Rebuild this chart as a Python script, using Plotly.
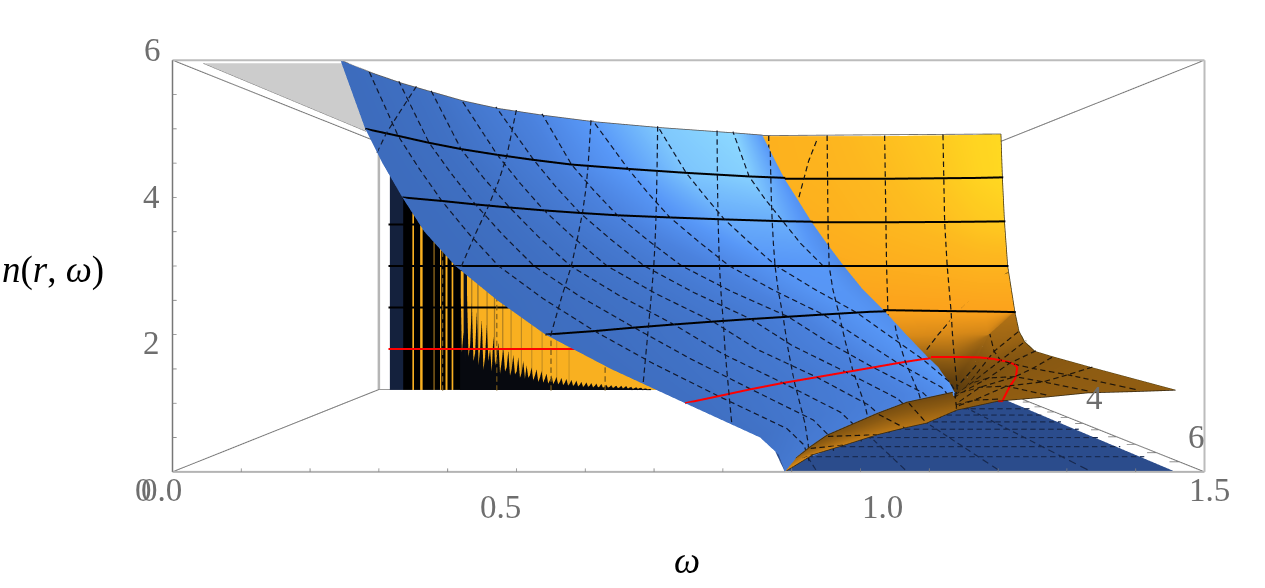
import math
import plotly.graph_objects as go

# Axis limits and tick positions
W_RANGE = [0.0, 1.5]
R_RANGE = [0.0, 6.5]
N_RANGE = [0.0, 6.0]
N_TICKS = [0.5, 1, 1.5, 2, 2.5, 3, 3.5, 4, 4.5, 5, 5.5]
W_TICKS = [0.1, 0.2, 0.3, 0.4, 0.5, 0.6, 0.7, 0.8, 0.9, 1.0, 1.1, 1.2, 1.3, 1.4]
R_TICKS = [0.5, 1, 1.5, 2, 2.5, 3, 3.5, 4, 4.5, 5, 5.5, 6]

# Lower branch of the sheet: omega tabulated on contours of n and stations of r
BLUE_N = [0, 0.25, 0.5, 1, 1.5, 2, 2.5, 3, 3.5, 4, 4.5, 5, 6]
BLUE_W = [
    [.890, .935, .985, 1.045, 1.110, 1.180, 1.245, 1.298, 1.330, 1.340, 1.350],
    [.881, .927, .977, 1.036, 1.100, 1.170, 1.237, 1.291, 1.325, 1.335, 1.345],
    [.854, .901, .952, 1.009, 1.073, 1.143, 1.211, 1.270, 1.310, 1.320, 1.330],
    [.745, .796, .851, .911, .980, 1.046, 1.113, 1.180, 1.251, 1.264, 1.273],
    [.637, .696, .752, .808, .873, .945, 1.024, 1.103, 1.180, 1.205, 1.228],
    [.542, .606, .662, .725, .794, .867, .946, 1.027, 1.110, 1.146, 1.185],
    [.472, .527, .575, .631, .692, .760, .834, .925, 1.020, 1.090, 1.140],
    [.411, .459, .500, .549, .604, .667, .737, .834, .938, 1.050, 1.102],
    [.366, .413, .450, .494, .545, .604, .671, .771, .881, 1.000, 1.065],
    [.334, .372, .405, .445, .491, .546, .610, .712, .827, .960, 1.030],
    [.305, .337, .366, .401, .447, .500, .563, .667, .785, .920, 1.000],
    [.280, .305, .330, .362, .407, .459, .520, .626, .745, .885, .969],
    [.244, .260, .281, .311, .342, .388, .462, .553, .684, .849, .919],
]
BLUE_R_COMMON = [6.5, 5.83, 5.25, 4.67, 4.08, 3.5, 2.92, 2.33, 1.75]
BLUE_R_FOLD = [
    [1.5, 1.3], [1.55, 1.4], [1.55, 1.4], [1.68, 1.6], [1.6, 1.48], [1.5, 1.35], [1.3, 1.15],
    [1.17, 1.05], [1.17, 1.02], [1.17, 1.0], [1.17, 0.96], [1.17, 0.93], [1.17, 0.90],
]
BLUE_TONE = [
    [.25, .30, .33, .38, .42, .45, .50, .55, .60, .60, .60],
    [.18, .24, .28, .33, .38, .42, .48, .54, .60, .60, .58],
    [.10, .17, .22, .27, .32, .38, .45, .52, .60, .58, .55],
    [.05, .10, .15, .20, .25, .33, .42, .50, .60, .55, .50],
    [.03, .07, .11, .16, .21, .29, .38, .50, .58, .55, .52],
    [.02, .05, .08, .12, .18, .25, .35, .48, .58, .56, .52],
    [.00, .03, .06, .11, .16, .23, .33, .46, .58, .58, .50],
    [.00, .02, .05, .10, .15, .22, .32, .45, .58, .60, .48],
    [.00, .02, .05, .10, .16, .25, .36, .50, .65, .66, .50],
    [.00, .02, .05, .10, .18, .28, .40, .55, .72, .74, .52],
    [.00, .02, .05, .10, .19, .29, .42, .58, .80, .84, .55],
    [.00, .02, .05, .10, .20, .30, .45, .62, .88, .95, .58],
    [.00, .02, .05, .10, .20, .30, .45, .62, .90, 1.0, .60],
]

# Lines of constant omega across the lower branch: (n, r) pairs
BLUE_W_LINES = {
    .297: [(6, 4.94), (5.5, 5.5), (5, 6.05), (4.65, 6.5)],
    .42: [(6, 3.25), (5, 3.93), (4.5, 4.43), (4, 5.03), (3.5, 5.72), (3, 6.37), (2.93, 6.5)],
    .55: [(6, 2.35), (5, 2.75), (4.5, 3.04), (4, 3.46), (3.5, 4.03), (3, 4.66), (2.5, 5.55), (2, 6.42), (1.97, 6.5)],
    .684: [(6, 1.75), (5, 2.05), (4.5, 2.25), (4, 2.49), (3.5, 2.84), (3, 3.36), (2.5, 4.16), (2, 5.05), (1.5, 5.96), (1.28, 6.5)],
    .813: [(6, 1.30), (5, 1.47), (4.5, 1.63), (4, 1.83), (3.5, 2.11), (3, 2.46), (2.5, 3.08), (2, 3.93), (1.5, 4.62), (1, 5.68), (.69, 6.5)],
    .935: [(5.6, 0.93), (5, 1.03), (4.5, 1.13), (4, 1.28), (3.5, 1.49), (3, 1.77), (2.5, 2.27), (2, 3.0), (1.5, 3.58), (1, 4.32), (.5, 5.44), (.25, 5.74), (0, 5.83)],
    1.065: [(3.5, 1.02), (3, 1.09), (2.5, 1.46), (2, 2.06), (1.5, 2.61), (1, 3.24), (.5, 4.15), (.25, 4.40), (0, 4.49)],
    1.2: [(1.7, 1.5), (1.5, 1.63), (1, 2.2), (.5, 3.01), (.25, 3.24), (0, 3.32)],
}

# Steep wall of the upper branch, with r and n tabulated against omega
WALL_W = [.80, .934, 1.068, 1.2, 1.33, 1.40, 1.458]
WALL_R = [
    [.80, .80, .80, .80, .90, .95, 1.03],
    [.85, .85, .85, .85, .95, 1.00, 1.10],
    [.90, .90, .90, .90, 1.00, 1.10, 1.20],
    [.95, .95, .95, .95, 1.15, 1.30, 1.35],
    [1.0, 1.0, 1.0, 1.05, 1.37, 1.50, 1.68],
    [1.05, 1.05, 1.05, 1.10, 1.45, 1.70, 1.68],
    [1.10, 1.10, 1.10, 1.15, 1.55, 1.70, 1.68],
    [1.15, 1.15, 1.15, 1.20, 1.68, 1.70, 1.68],
    [1.20, 1.20, 1.20, 1.25, 1.75, 1.70, 1.68],
]
WALL_N = [
    [6, 6, 6, 6, 6, 6, 6],
    [5, 5, 5, 5, 5, 5, 5],
    [4, 4, 4, 4, 4, 4, 4],
    [3, 3, 3, 3, 3, 3, 3],
    [2, 2, 2, 2, 2, 2, 2],
    [1.5, 1.5, 1.5, 1.5, 1.5, 1.5, 2],
    [1, 1, 1, 1, 1, 1.5, 2],
    [.5, .5, .5, .5, .5, 1.5, 2],
    [.1, .1, .1, .1, .1, 1.5, 2],
]
WALL_TONE = [
    [.80, .80, .83, .88, .94, .98, 1.0],
    [.78, .80, .82, .86, .92, .97, 1.0],
    [.76, .78, .80, .84, .88, .92, .94],
    [.72, .74, .76, .78, .80, .82, .82],
    [.70, .70, .70, .70, .70, .70, .70],
    [.60, .60, .55, .55, .50, .45, .40],
    [.35, .35, .30, .30, .30, .35, .40],
    [.10, .10, .10, .05, .08, .35, .40],
    [.05, .05, .05, .03, .02, .35, .40],
]

# Shallow part of the upper branch, from the front edge back towards the valley
SHEET_W = [1.14, 1.2, 1.27, 1.33, 1.40, 1.458]
SHEET_R = [
    [6.5, 6.5, 6.5, 6.5, 6.5, 6.5],
    [5.5, 5.6, 5.2, 5.2, 4.67, 4.46],
    [4.8, 4.8, 4.2, 4.26, 3.5, 3.2],
    [4.2, 4.0, 3.4, 3.2, 2.6, 2.53],
    [3.8, 3.4, 2.8, 2.4, 2.2, 2.1],
    [3.5, 3.0, 2.4, 1.9, 1.9, 1.86],
    [3.3, 2.8, 2.1, 1.75, 1.7, 1.68],
]
SHEET_N = [
    [.90, 1.03, 1.09, 1.15, 1.17, 1.19],
    [.60, .85, 1.00, 1.07, 1.10, 1.21],
    [.35, .60, .80, 1.00, 1.03, 1.23],
    [.15, .35, .55, .80, 1.00, 1.25],
    [.05, .12, .30, .55, 1.00, 1.40],
    [0, .03, .12, .25, 1.15, 1.60],
    [0, 0, .03, .10, 1.50, 2.00],
]
SHEET_TONE = [
    [.27, .27, .27, .27, .27, .27],
    [.26, .26, .26, .26, .26, .26],
    [.24, .24, .24, .24, .24, .24],
    [.20, .20, .20, .20, .22, .24],
    [.14, .14, .14, .12, .22, .28],
    [.07, .07, .07, .05, .28, .33],
    [.04, .04, .03, .02, .33, .38],
]

# Narrow lens of the upper branch just above the cut-off at the front of the box
LENS_W = [
    [.890, .908, .933, .959, 1.035, 1.080, 1.149],
    [.890, .931, .977, 1.024, 1.064, 1.096, 1.140],
]
LENS_R = [
    [6.5, 6.1, 6.1, 6.1, 6.1, 6.1, 6.1],
    [6.5, 6.5, 6.5, 6.5, 6.5, 6.5, 6.5],
]
LENS_N = [
    [0, .06, .26, .44, .77, .94, 1.09],
    [0, .25, .39, .54, .64, .71, .90],
]
LENS_TONE = [
    [.50, .32, .24, .20, .18, .16, .14],
    [.55, .50, .46, .42, .40, .38, .32],
]

# Clipped top cap, lying on the n = 6 face
CAP_R = [6.35, 5.83, 5.25, 4.67, 4.08, 3.5, 2.92, 2.33, 1.75, 1.35]
CAP_LEFT_W = [.034, .034, .034, .034, .034, .034, .034, .034, .034, .034]
CAP_RIGHT_W = [.250, .260, .281, .311, .342, .388, .462, .553, .684, .780]

# Fast oscillations on the far wall: band edges in omega and their tones
STRIPE_W = [
    .0290, .0610, .0611, .0830, .0831, .0870, .0871, .1020, .1021, .1080, .1081, .1340, .1341, .1370, .1371, .1500, .1501, .1530, .1531,
    .1630, .1631, .1680, .1681, .1780, .1781, .1820, .1821, .2000, .2001, .2070, .2071, .2150, .2151, .2250,
    .2251, .2280, .2281, .2400, .2401, .2430, .2431, .2620, .2621, .2650, .2651, .2800, .2801, .2830, .2831,
    .3000, .3001, .3030, .3031, .3200, .3201, .3230, .3231, .3450, .3451, .3480, .3481, .3700, .3701, .3730,
    .3731, .3950, .3951, .3980, .3981, .4300, .4301, .4330, .4331, .4600, .4601, .4630, .4631, .9000,
]
STRIPE_TONE = [
    .5, .5, 0, 0, 1, 1, 0, 0, 1, 1, 0, 0, .8, .8, 0, 0, 1, 1, 0,
    0, 1, 1, 0, 0, 1, 1, 0, 0, 1, 1, .3, .3, 1, 1,
    .8, .8, 1, 1, .75, .75, 1, 1, .8, .8, 1, 1, .8, .8, 1,
    1, .82, .82, 1, 1, .85, .85, 1, 1, .85, .85, 1, 1, .88, .88,
    1, 1, .88, .88, 1, 1, .9, .9, 1, 1, .9, .9, 1, 1,
]
STRIPE_R = 0.05
SPIKE_W = [
    .200, .204, .208, .212, .216, .220, .224, .228, .232, .236, .240, .244, .248, .252, .256, .260, .264, .268, .272, .276,
    .280, .284, .288, .292, .296, .300, .304, .308, .312, .316, .320, .324, .328, .332, .336, .340, .344, .348, .352, .356,
    .360, .364, .368, .372, .376, .380, .384, .388, .392, .396, .400, .404, .408, .412, .416, .420, .424, .428, .432, .436,
    .440, .444, .448, .452, .456, .460, .464, .468, .472, .476, .480, .484, .488, .492, .496, .500, .504, .508, .512, .516,
    .520, .524, .528, .532, .536, .540, .544, .548, .552, .556, .560, .564, .568, .572, .576, .580, .584, .588, .592, .596,
    .600, .604, .608, .612, .616, .620, .624, .628, .632, .636, .640, .644, .648, .652, .656, .660,
]
SPIKE_N = [
    3.0, .9, 1.4, .7, 2.5, .8, 1.1, 2.1, .7, .9, 1.9, .6, 1.0, 1.7, .5, .8, 1.6, .7, 1.0, .45,
    1.3, .6, .8, 1.15, .4, .7, 1.0, .45, .55, .95, .35, .5, .85, .38, .45, .8, .3, .42, .7, .28,
    .6, .3, .36, .55, .24, .35, .5, .2, .3, .46, .18, .28, .4, .16, .24, .36, .15, .22, .32, .14,
    .2, .3, .12, .18, .27, .11, .16, .25, .1, .15, .23, .09, .13, .2, .08, .12, .19, .08, .11, .17,
    .07, .1, .16, .07, .09, .15, .06, .09, .13, .06, .08, .12, .05, .08, .11, .05, .07, .11, .04, .07,
    .1, .04, .06, .08, .03, .05, .07, .03, .05, .06, .02, .04, .04, .02, .03, .02,
]
STRIPE_MESH_W = [.16, .29, .42, .55]

# Contour of n = 1 across the upper branch: (omega, r)
RED_UPPER = [
    (1.273, 1.6), (1.33, 1.58), (1.376, 1.65), (1.395, 1.9), (1.405, 2.35), (1.40, 2.7), (1.388, 3.05),
    (1.36, 3.6), (1.326, 4.26), (1.27, 5.2), (1.206, 6.33), (1.2, 6.5),
]
FAR_WALL_LEVELS = {4: .30, 3: .40, 2: .54, 1: .48}

# Iso-r dashes on the wall: (omega, n) with r fixed per line
WALL_R_LINES = {
    1.35: [(1.457, 2.85), (1.402, 2.47), (1.347, 1.99), (1.303, 1.48), (1.274, 1.10)],
    1.75: [(1.464, 1.52), (1.415, 1.2), (1.372, .88), (1.33, .41)],
    .95: [(1.041, 5.85), (1.023, 5.39), (1.0, 4.53)],
}

# Floor of the box under the upper branch
FLOOR_W = [.89, 1.458]
FLOOR_R = [6.5, 1.2]
FLOOR_MESH_W = {.935: 5.83, 1.065: 4.49, 1.2: 3.32, 1.33: 1.8}

W_LABELS = [(0.5, "0.5", -16, -35), (1.0, "1.0", 22, -35), (1.5, "1.5", 5, -18), (0.0, "0.0", -11, -18)]
N_LABELS = [(0, "0", -29, -18), (2, "2", -21, -8), (4, "4", -21, 0), (6, "6", -20, 10)]
R_LABELS = [(4, "4", -5, 32), (6, "6", 17, 25)]

GRAY_TEXT = "#6e6e6e"
TEXT_FONT = "Liberation Serif"
BLUE_SCALE = [[0, "#3d6cbd"], [.4, "#4b82de"], [.6, "#5898f8"], [1, "#8cd8ff"]]
ORANGE_SCALE = [[0, "#4e330c"], [.25, "#8b5a12"], [.5, "#d98a18"], [.7, "#fca21c"], [.85, "#fdb81f"], [1, "#ffd821"]]
STRIPE_SCALE = [[0, "#000000"], [.3, "#0a0f1c"], [.5, "#14213d"], [.8, "#a87a20"], [1, "#f9b020"]]
LIT = dict(ambient=1, diffuse=0, specular=0, roughness=1, fresnel=0)
NEAR = 0.14  # lines sit just in front of the sheets they belong to
SOLID = 4
DASHED = 2.4
DASH_ON, DASH_OFF = 5.5, 3.5  # dash rhythm, in approximate screen pixels

fig = go.Figure()


def sheet(w, r, n, tone, scale):
    fig.add_trace(go.Surface(x=w, y=r, z=n, surfacecolor=tone, colorscale=scale, cmin=0, cmax=1,
                             showscale=False, lighting=LIT, hoverinfo="skip"))


def line(w, r, n, color="black", width=SOLID):
    fig.add_trace(go.Scatter3d(x=w, y=r, z=n, mode="lines", line=dict(color=color, width=width),
                               hoverinfo="skip", showlegend=False))


def near(r, gap=NEAR):
    return min(r + gap, R_RANGE[1])


def screen_scale(r):
    return 1 / (1 + .653 * (1 - r / 6.5))


def dashed(w, r, n, color="#10182c", width=DASHED):
    """Break a polyline into evenly spaced pieces, since gl lines ignore a pixel dash length."""
    xs, ys, zs = [], [], []
    on, left = True, DASH_ON
    if on:
        xs.append(w[0]); ys.append(r[0]); zs.append(n[0])
    for i in range(len(w) - 1):
        s0, s1 = screen_scale(r[i]), screen_scale(r[i + 1])
        dx = 1033 * (s1 * (w[i + 1] / 1.5 - .5) - s0 * (w[i] / 1.5 - .5))
        dy = 412 * (s1 * (n[i + 1] / 6 - .5) - s0 * (n[i] / 6 - .5))
        length = math.hypot(dx, dy)
        t = 0.0
        while length > 0:
            step = left / length
            if t + step >= 1:
                left -= (1 - t) * length
                break
            t += step
            pw = w[i] + t * (w[i + 1] - w[i])
            pr = r[i] + t * (r[i + 1] - r[i])
            pn = n[i] + t * (n[i + 1] - n[i])
            if on:
                xs += [pw, None]; ys += [pr, None]; zs += [pn, None]
            else:
                xs.append(pw); ys.append(pr); zs.append(pn)
            on = not on
            left = DASH_ON if on else DASH_OFF
        if on:
            xs.append(w[i + 1]); ys.append(r[i + 1]); zs.append(n[i + 1])
    line(xs, ys, zs, color, width)


blue_r = [BLUE_R_COMMON + fold for fold in BLUE_R_FOLD]
blue_n = [[level] * 11 for level in BLUE_N]
sheet(BLUE_W, blue_r, blue_n, BLUE_TONE, BLUE_SCALE)
sheet([WALL_W] * 9, WALL_R, WALL_N, WALL_TONE, ORANGE_SCALE)
sheet([SHEET_W] * 7, SHEET_R, SHEET_N, SHEET_TONE, ORANGE_SCALE)
sheet(LENS_W, LENS_R, LENS_N, LENS_TONE, ORANGE_SCALE)

# Top cap
sheet([CAP_LEFT_W, CAP_RIGHT_W], [CAP_R, CAP_R], [[6] * 10, [6] * 10], [[0] * 10, [0] * 10],
      [[0, "#cccccc"], [1, "#cccccc"]])
line(CAP_LEFT_W, CAP_R, [6] * 10, "#707070", 1.6)

# Far wall with its bands and the jagged dark band along its foot
sheet([STRIPE_W, STRIPE_W], [[STRIPE_R] * len(STRIPE_W)] * 2, [[0] * len(STRIPE_W), [6] * len(STRIPE_W)],
      [STRIPE_TONE, STRIPE_TONE], STRIPE_SCALE)
sheet([SPIKE_W, SPIKE_W], [[STRIPE_R + .04] * len(SPIKE_W)] * 2, [[0] * len(SPIKE_N), SPIKE_N],
      [[0] * len(SPIKE_W), [0] * len(SPIKE_W)], [[0, "#07090f"], [1, "#07090f"]])
for w in STRIPE_MESH_W:
    dashed([w, w], [STRIPE_R + .1] * 2, [0, 4], "#7a5a18")
for level, end_w in FAR_WALL_LEVELS.items():
    line([.029, end_w], [STRIPE_R + .08] * 2, [level, level], "#ff0000" if level == 1 else "black", SOLID)

# Floor and its mesh
sheet([FLOOR_W, FLOOR_W], [[FLOOR_R[0]] * 2, [FLOOR_R[1]] * 2], [[0, 0], [0, 0]], [[0, 0], [0, 0]],
      [[0, "#2b4c8c"], [1, "#2b4c8c"]])
for k in range(1, 8):
    dashed([BLUE_W[0][k], FLOOR_W[1]], [BLUE_R_COMMON[k]] * 2, [.03, .03], "#17284d")
for w, far_r in FLOOR_MESH_W.items():
    dashed([w, w], [6.5, far_r], [.03, .03], "#17284d")

# Contours on the lower branch
for i, level in enumerate(BLUE_N):
    if level in (1, 2, 3, 4, 5):
        line(BLUE_W[i], [near(r) for r in blue_r[i]], [level] * 11, "#ff0000" if level == 1 else "black", SOLID)

# Iso-r dashes on the lower branch
for k in range(1, 9):
    dashed([row[k] for row in BLUE_W], [BLUE_R_COMMON[k] + NEAR] * 13, BLUE_N)
dashed([row[9] for row in BLUE_W[7:]], [1.17 + NEAR] * 6, BLUE_N[7:])

# Iso-omega dashes on the lower branch
for w, pts in BLUE_W_LINES.items():
    dashed([w] * len(pts), [near(p[1]) for p in pts], [p[0] for p in pts])

# Thin outline of the lower branch
line(BLUE_W[-1], [near(r, .02) for r in blue_r[-1]], [6] * 11, "#5a5a5a", 1.6)

# Wall contours and dashes
for row in range(1, 5):
    line(WALL_W, [r + .06 for r in WALL_R[row]], WALL_N[row], "black", SOLID)
for col in (1, 2, 3, 4):
    dashed([WALL_W[col]] * 9, [row[col] + .06 for row in WALL_R], [row[col] for row in WALL_N], "#141414")
for r_fix, pts in WALL_R_LINES.items():
    dashed([p[0] for p in pts], [r_fix + .05] * len(pts), [p[1] for p in pts], "#141414")
line([WALL_W[-1]] * 9, [row[-1] + .02 for row in WALL_R], [row[-1] for row in WALL_N], "#4a3a10", 1.6)
line([WALL_W[0], WALL_W[-1]], [.82, 1.05], [6, 6], "#5a5a5a", 1.6)

# Sheet mesh, its right edge and the red contour across it
for i in range(1, 6):
    dashed(SHEET_W, [r + .08 for r in SHEET_R[i]], [n + .03 for n in SHEET_N[i]], "#20160a")
for c in range(5):
    dashed([SHEET_W[c]] * 7, [near(row[c], .08) for row in SHEET_R], [row[c] + .03 for row in SHEET_N], "#20160a")
line([SHEET_W[5]] * 7, [near(row[5], .02) for row in SHEET_R], [row[5] for row in SHEET_N], "#4a3a10", 1.6)
line([p[0] for p in RED_UPPER], [near(p[1], .18) for p in RED_UPPER], [1.03] * len(RED_UPPER), "#ff0000", SOLID)

# Outline of the lens
line(LENS_W[0], [near(r, .03) for r in LENS_R[0]], LENS_N[0], "#3a2a10", 1.6)
line(LENS_W[1] + SHEET_W[1:], [6.5] * 12, LENS_N[1] + SHEET_N[0][1:], "#3a2a10", 1.6)
for c in range(1, 7):
    dashed([LENS_W[0][c], LENS_W[1][c]], [6.2, 6.5], [LENS_N[0][c], LENS_N[1][c]], "#18110a")

# Bounding box
w0, w1 = W_RANGE
r0, r1 = R_RANGE
n0, n1 = N_RANGE
line([w0, w1], [r1, r1], [n1, n1], "#bcbcbc", 4)
line([w0, w1], [r1, r1], [n0, n0], "#b4b4b4", 4)
line([w1, w1], [r1, r1], [n0, n1], "#bcbcbc", 4)
line([w0, w0], [r1, r1], [n0, n1], "#777777", 3)
for w, n in ((w0, n0), (w0, n1), (w1, n0), (w1, n1)):
    line([w, w], [r0, r1], [n, n], "#7a7a7a", 2)
line([w0, w0], [r0, r0], [n0, n1], "#b5b5b5", 5)
line([w0, w1], [r0, r0], [n0, n0], "#9a9a9a", 2)
line([w0, w1], [r0, r0], [n1, n1], "#9a9a9a", 2)
line([w1, w1], [r0, r0], [n0, n1], "#9a9a9a", 2)

# Tick marks
for n in N_TICKS:
    line([w0, .006], [r1, r1], [n, n], "#808080", 1.6)
for w in W_TICKS:
    line([w, w], [r1, r1], [n0, .05], "#808080", 1.6)
for r in R_TICKS:
    line([w1, 1.485], [r, r], [n0, n0], "#808080", 1.6)

annotations3d = []
for w, text, dx, dy in W_LABELS:
    annotations3d.append(dict(x=w, y=r1, z=n0, text=text, xshift=dx, yshift=dy))
for n, text, dx, dy in N_LABELS:
    annotations3d.append(dict(x=w0, y=r1, z=n, text=text, xshift=dx, yshift=dy))
for r, text, dx, dy in R_LABELS:
    annotations3d.append(dict(x=w1, y=r, z=n0, text=text, xshift=dx, yshift=dy))
for a in annotations3d:
    a.update(showarrow=False, font=dict(family=TEXT_FONT, size=33, color=GRAY_TEXT), xanchor="center", yanchor="middle")

hidden_axis = dict(visible=False, showspikes=False, showgrid=False, zeroline=False, showbackground=False)
fig.update_layout(
    width=1265, height=588, margin=dict(l=0, r=0, t=0, b=0),
    paper_bgcolor="white", showlegend=False,
    scene=dict(
        domain=dict(x=[.0886, 1], y=[.095, 1]),
        xaxis=dict(range=W_RANGE, **hidden_axis),
        yaxis=dict(range=R_RANGE[::-1], **hidden_axis),
        zaxis=dict(range=N_RANGE, **hidden_axis),
        aspectmode="manual",
        aspectratio=dict(x=2.507, y=1.04, z=1),
        camera=dict(eye=dict(x=0, y=-2.08, z=0), center=dict(x=0, y=0, z=0), up=dict(x=0, y=0, z=1),
                    projection=dict(type="perspective")),
        annotations=annotations3d,
        bgcolor="white",
    ),
    annotations=[
        dict(xref="paper", yref="paper", x=53 / 1265, y=1 - 270 / 588, showarrow=False, xanchor="center", yanchor="middle",
             text="<i>n</i>(<i>r</i>, <i>ω</i>)", font=dict(family=TEXT_FONT, size=37, color="black")),
        dict(xref="paper", yref="paper", x=687 / 1265, y=1 - 560 / 588, showarrow=False, xanchor="center", yanchor="middle",
             text="<i>ω</i>", font=dict(family=TEXT_FONT, size=37, color="black")),
    ],
)
fig.write_html("out.html")
